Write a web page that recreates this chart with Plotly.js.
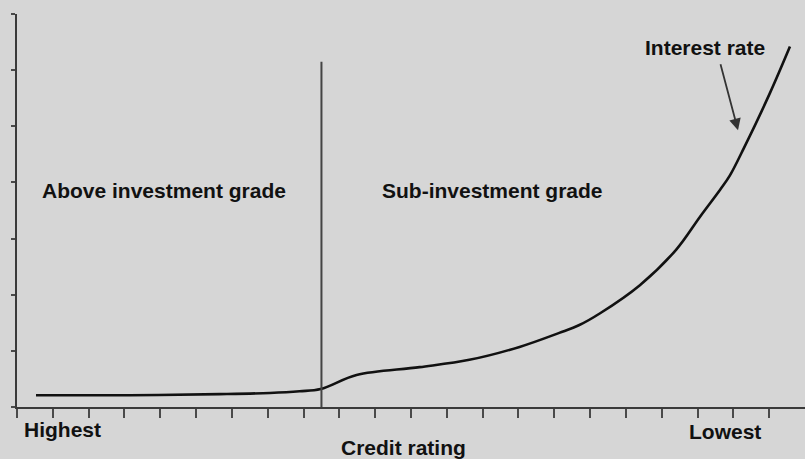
<!DOCTYPE html>
<html>
<head>
<meta charset="utf-8">
<script src="https://cdn.plot.ly/plotly-3.0.1.min.js"></script>
<style>
  html, body { margin: 0; padding: 0; background: #d6d6d6; }
  #chart { width: 805px; height: 459px; }
</style>
</head>
<body>
<div id="chart"></div>
<script>
// Credit rating position (0 = highest ... 22 = lowest) and interest rate level
const ratingPos    = [0.53, 3.15, 5.66, 7.06, 7.89, 8.48, 9.48, 11.24, 12.63, 14.03, 15.14, 15.70, 16.28, 17.39, 18.40, 19.07, 19.63, 19.90, 20.30, 21.02, 21.58];
const interestRate = [0.21, 0.21, 0.23, 0.25, 0.28, 0.32, 0.57, 0.71, 0.84, 1.07, 1.32, 1.46, 1.67, 2.17, 2.80, 3.39, 3.87, 4.12, 4.62, 5.59, 6.42];
const gradeBoundary = 8.5;
const boundaryTop = 6.15;
const xTickVals = [0,1,2,3,4,5,6,7,8,9,10,11,12,13,14,15,16,17,18,19,20,21];
const yTickVals = [0,1,2,3,4,5,6,7];
const regionLabels = ["Above investment grade", "Sub-investment grade"];
const endLabels = ["Highest", "Lowest"];
const axisLabel = "Credit rating";
const seriesLabel = "Interest rate";

const FONT = {family: '"Liberation Sans", Arial, sans-serif', size: 21, color: '#111'};

const trace = {
  x: ratingPos,
  y: interestRate,
  type: 'scatter',
  mode: 'lines',
  line: {color: '#111', width: 2.6, shape: 'spline', smoothing: 1},
  hoverinfo: 'skip',
  showlegend: false
};

const ann = (text, x, y, yref, extra) => Object.assign({
  text: '<b>' + text + '</b>', x: x, y: y, xref: 'x', yref: yref,
  showarrow: false, font: FONT, xanchor: 'center', yanchor: 'middle'
}, extra || {});

const layout = {
  width: 805, height: 459,
  margin: {l: 17, r: 0, t: 14, b: 52},
  paper_bgcolor: '#d6d6d6',
  plot_bgcolor: '#d6d6d6',
  showlegend: false,
  xaxis: {
    range: [0, 22], showgrid: false, zeroline: false,
    showline: true, linecolor: '#3a3a3a', linewidth: 2,
    ticks: 'outside', ticklen: 9, tickwidth: 2, tickcolor: '#4a4a4a',
    tickmode: 'array', tickvals: xTickVals, showticklabels: false
  },
  yaxis: {
    range: [0, 7], showgrid: false, zeroline: false,
    showline: true, linecolor: '#3a3a3a', linewidth: 2,
    ticks: 'outside', ticklen: 4, tickwidth: 2, tickcolor: '#4a4a4a',
    tickmode: 'array', tickvals: yTickVals, showticklabels: false
  },
  shapes: [{
    type: 'line', xref: 'x', yref: 'y',
    x0: gradeBoundary, x1: gradeBoundary, y0: 0, y1: boundaryTop,
    line: {color: '#444', width: 2}
  }],
  annotations: [
    ann(regionLabels[0], 4.09, 3.865, 'y'),
    ann(regionLabels[1], 13.27, 3.865, 'y'),
    ann(seriesLabel, 19.22, 6.41, 'y'),
    ann(endLabels[0], 1.27, -0.0585, 'paper'),
    ann(endLabels[1], 19.78, -0.0636, 'paper'),
    ann(axisLabel, 10.79, -0.1018, 'paper'),
    {
      text: '', x: 20.13, y: 4.93, xref: 'x', yref: 'y',
      ax: 19.63, ay: 6.13, axref: 'x', ayref: 'y',
      showarrow: true, arrowhead: 2, arrowsize: 1.3, arrowwidth: 1.8, arrowcolor: '#333'
    }
  ]
};

Plotly.newPlot('chart', [trace], layout, {displayModeBar: false, staticPlot: true});
</script>
</body>
</html>
